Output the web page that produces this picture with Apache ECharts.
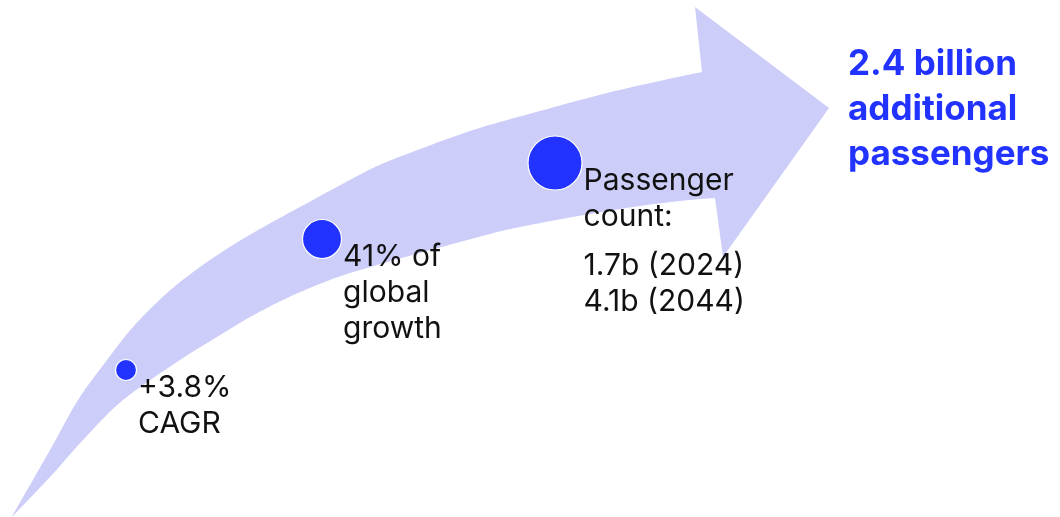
<!DOCTYPE html>
<html>
<head>
<meta charset="utf-8">
<script src="https://cdn.jsdelivr.net/npm/echarts@6/dist/echarts.min.js"></script>
<style>
html,body{margin:0;padding:0;background:#fff;}
#chart{width:1060px;height:517px;}
</style>
</head>
<body>
<div id="chart"></div>
<script>
// ---- data ----
var titleLines = ['2.4 billion', 'additional', 'passengers'];
var milestoneX = [126, 322, 555];
var milestoneY = [370, 239, 163];
var milestoneLabels = [
  ['+3.8%', 'CAGR'],
  ['41% of', 'global', 'growth'],
  ['Passenger', 'count:', '', '1.7b (2024)', '4.1b (2044)']
];
// arrow outline (x, y in the chart's plane; y grows downward)
var arrowUpperX = [11, 50, 78, 107, 133, 167, 200, 233, 267, 300, 333, 373, 407, 473, 540, 607, 673, 702];
var arrowUpperY = [518, 450, 400, 360, 327, 293, 267, 245, 225, 207, 189, 168, 154, 130, 111, 93, 78, 72];
var arrowHeadX = [695, 829, 723];
var arrowHeadY = [7, 108, 257];
var arrowLowerX = [715, 680, 620, 520, 460, 360, 317, 283, 250, 217, 180, 123, 83, 50, 11];
var arrowLowerY = [198, 201, 209, 227, 242, 270, 285, 300, 317, 337, 360, 400, 440, 477, 518];

// ---- styles ----
var bubbleSizes = [21, 39, 54];
var blue = '#2233ff';
var arrowColor = '#cdcdf9';
var font = 'Inter, "Noto Sans", sans-serif';

function toPts(xs, ys) { return xs.map(function (x, i) { return [x, ys[i]]; }); }

// smooth an open edge (Catmull-Rom) for drawing
function smoothEdge(p) {
  var out = [];
  var n = p.length;
  for (var i = 0; i < n - 1; i++) {
    var p0 = p[Math.max(i - 1, 0)], p1 = p[i], p2 = p[i + 1], p3 = p[Math.min(i + 2, n - 1)];
    var steps = 10;
    for (var s = 0; s < steps; s++) {
      var t = s / steps, t2 = t * t, t3 = t2 * t;
      var pt = [0, 1].map(function (k) {
        return 0.5 * ((2 * p1[k]) + (-p0[k] + p2[k]) * t +
          (2 * p0[k] - 5 * p1[k] + 4 * p2[k] - p3[k]) * t2 +
          (-p0[k] + 3 * p1[k] - 3 * p2[k] + p3[k]) * t3);
      });
      out.push(pt);
    }
  }
  out.push(p[n - 1]);
  return out;
}

function labelText(lines) {
  return lines.map(function (l) { return l === '' ? '{gap|}' : '{t|' + l + '}'; }).join('\n');
}

var scatterData = milestoneX.map(function (x, i) {
  return {
    value: [x, milestoneY[i]],
    symbolSize: bubbleSizes[i],
    label: { formatter: labelText(milestoneLabels[i]) }
  };
});

var chart = echarts.init(document.getElementById('chart'), null, {renderer: 'canvas'});
chart.setOption({
  animation: false,
  backgroundColor: '#ffffff',
  title: {
    text: titleLines.join('\n'),
    left: 843,
    top: 37,
    textStyle: {
      color: blue,
      fontFamily: font,
      fontWeight: 'bold',
      fontSize: 35,
      lineHeight: 45
    }
  },
  grid: {left: 0, right: 0, top: 0, bottom: 0},
  xAxis: {type: 'value', min: 0, max: 1060, show: false},
  yAxis: {type: 'value', min: 0, max: 517, inverse: true, show: false},
  series: [
    {
      type: 'custom',
      silent: true,
      z: 1,
      clip: false,
      data: [0],
      renderItem: function (params, api) {
        var up = toPts(arrowUpperX, arrowUpperY).map(function (p) { return api.coord(p); });
        var head = toPts(arrowHeadX, arrowHeadY).map(function (p) { return api.coord(p); });
        var low = toPts(arrowLowerX, arrowLowerY).map(function (p) { return api.coord(p); });
        var pts = smoothEdge(up).concat(head).concat(smoothEdge(low));
        return {
          type: 'polygon',
          shape: {points: pts},
          style: {fill: arrowColor}
        };
      }
    },
    {
      type: 'scatter',
      z: 2,
      symbol: 'circle',
      itemStyle: {color: blue, borderColor: '#ffffff', borderWidth: 1.2, opacity: 1},
      label: {
        show: true,
        position: 'right',
        distance: 1,
        align: 'left',
        verticalAlign: 'top',
        rich: {
          t: {fontFamily: font, fontSize: 30, lineHeight: 36, color: '#111111'},
          gap: {fontSize: 10, lineHeight: 13}
        }
      },
      data: scatterData
    }
  ]
});
</script>
</body>
</html>
